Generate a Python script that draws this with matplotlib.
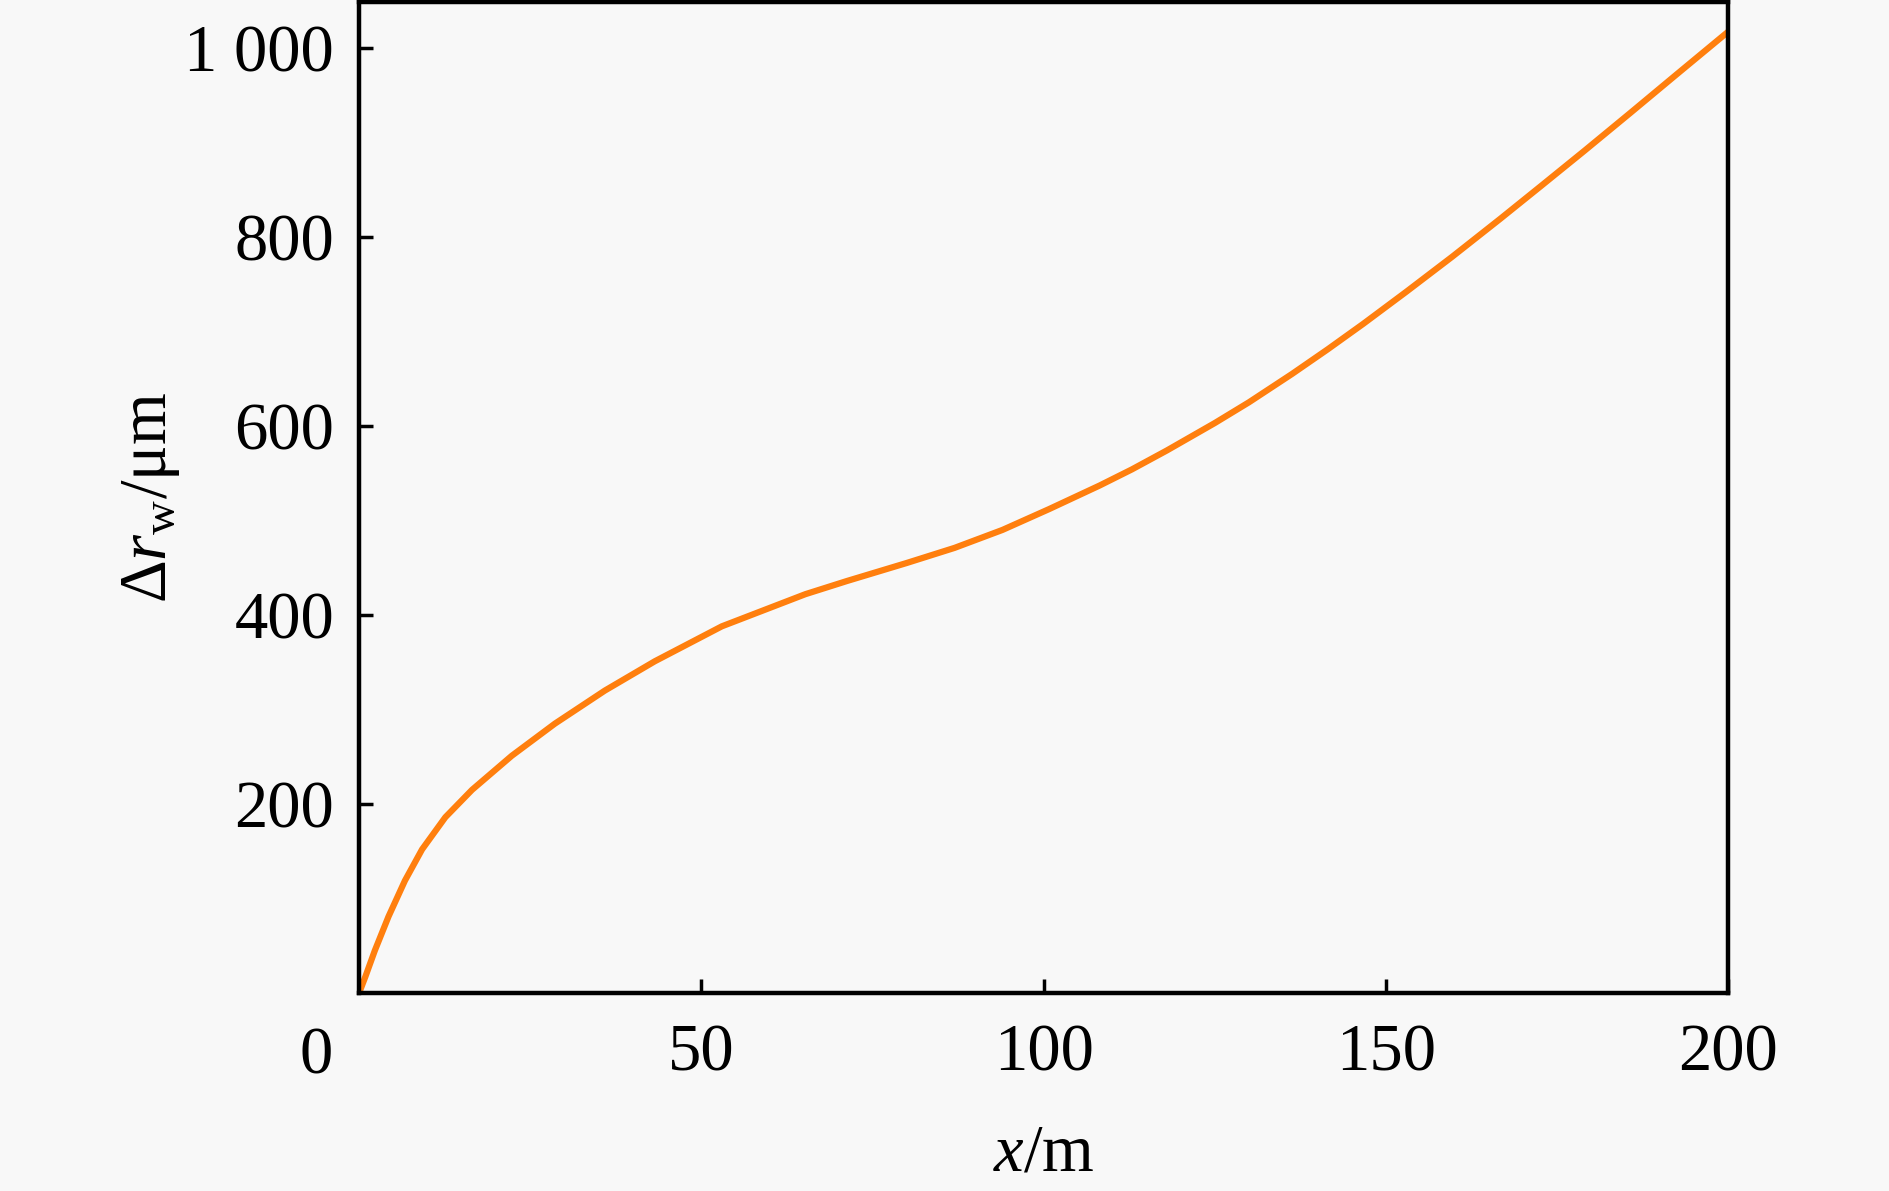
import matplotlib
matplotlib.use("Agg")
import matplotlib.pyplot as plt

# values
x_m = [0, 0.9, 2.3, 4.3, 6.7, 9.2, 12.6, 16.5, 22.3, 28.6, 35.9, 43.2,
       53.0, 65.2, 71.3, 80, 87, 94, 100.8, 108.2, 112.9, 118, 125, 130,
       136.3, 141.5, 146.7, 153, 159.7, 166.7, 172.7, 179, 185.7, 192.5, 200]
dr_w = [0, 17, 45, 81, 119, 152, 186, 215, 251, 285, 320, 351,
        388, 422, 436, 455, 471, 490, 512, 537, 554, 574, 603, 625,
        655, 681, 708, 742, 779, 819, 854, 891, 931, 972, 1017]

x_ticks = [50, 100, 150, 200]
y_ticks = [200, 400, 600, 800, 1000]
y_tick_labels = ["200", "400", "600", "800", "1 000"]


def main():
    plt.rcParams["font.family"] = ["Liberation Serif", "DejaVu Serif"]
    plt.rcParams["mathtext.fontset"] = "custom"
    plt.rcParams["mathtext.rm"] = "Liberation Serif"
    plt.rcParams["mathtext.it"] = "Liberation Serif:italic"

    bg = "#f8f8f8"
    fig = plt.figure(figsize=(18.9, 11.91), dpi=100, facecolor=bg)
    ax = fig.add_axes([0.19, 0.1662, 0.7243, 0.8325], facecolor=bg)

    ax.plot(x_m, dr_w, color="#ff7f0e", lw=4.5,
            solid_joinstyle="round", solid_capstyle="butt")

    ax.set_xlim(0, 200)
    ax.set_ylim(0, 1049)
    ax.set_xticks(x_ticks)
    ax.set_yticks(y_ticks)
    ax.set_yticklabels(y_tick_labels)

    for s in ax.spines.values():
        s.set_linewidth(3.2)
    ax.tick_params(direction="in", length=10, width=2.5, labelsize=48)
    ax.tick_params(axis="y", pad=18)
    ax.tick_params(axis="x", pad=22)

    # origin label sits left of the corner
    ax.annotate("0", xy=(0, 0), xycoords="data", xytext=(-31, -24),
                textcoords="offset points", ha="center", va="top", fontsize=48)

    ax.set_xlabel(r"$x$/m", fontsize=48, labelpad=28)
    ax.set_ylabel(r"$\Delta r_\mathrm{w}$/μm", fontsize=48, labelpad=2)

    fig.savefig("out.png", dpi=100, facecolor=bg)
    plt.close(fig)


if __name__ == "__main__":
    main()
